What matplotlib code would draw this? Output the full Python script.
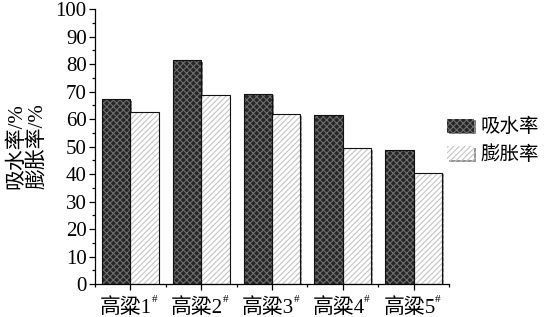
import matplotlib
matplotlib.use("Agg")
import matplotlib.pyplot as plt
import matplotlib.patheffects as pe
from matplotlib.ticker import MultipleLocator, FixedLocator
import numpy as np

# values
samples = ["高粱1", "高粱2", "高粱3", "高粱4", "高粱5"]
absorb = [67.3, 81.3, 69.2, 61.6, 48.6]     # 吸水率 /%
swell = [62.6, 68.8, 61.8, 49.3, 40.5]      # 膨胀率 /%
series_names = ["吸水率", "膨胀率"]
y_label = "吸水率/%\n膨胀率/%"

plt.rcParams['font.family'] = ['Liberation Serif', 'Noto Sans CJK SC', 'DejaVu Sans']
plt.rcParams['hatch.linewidth'] = 0.8

fig = plt.figure(figsize=(5.47, 3.17), dpi=100)
ax = fig.add_axes([0.1737, 0.104, 0.6471, 0.8676])

x = np.arange(len(samples))
w = 0.4
shadow = [pe.SimplePatchShadow(offset=(1.2, -1.2), shadow_rgbFace='#888888', alpha=0.9), pe.Normal()]

# fill with coloured hatch first, outline on top
b1 = ax.bar(x - w / 2, absorb, w, facecolor='#262626', edgecolor='#6e6e6e', hatch='xxxxx',
            linewidth=0, path_effects=shadow, zorder=2)
ax.bar(x - w / 2, absorb, w, facecolor='none', edgecolor='#111111', linewidth=0.8, zorder=3)
b2 = ax.bar(x + w / 2, swell, w, facecolor='white', edgecolor='#c4c4c4', hatch='//////',
            linewidth=0, path_effects=shadow, zorder=2)
ax.bar(x + w / 2, swell, w, facecolor='none', edgecolor='#111111', linewidth=0.8, zorder=3)

ax.set_xlim(-0.5, len(samples) - 0.5)
ax.set_ylim(0, 100)
ax.yaxis.set_major_locator(MultipleLocator(10))
ax.yaxis.set_minor_locator(MultipleLocator(5))
ax.xaxis.set_major_locator(FixedLocator(x))
ax.xaxis.set_minor_locator(FixedLocator(np.arange(len(samples) + 1) - 0.5))
ax.set_xticklabels(samples)
ax.tick_params(axis='both', which='major', direction='out', length=4, width=0.9, labelsize=15, pad=2)
ax.tick_params(axis='both', which='minor', direction='out', length=2.5, width=0.9)
ax.tick_params(axis='x', which='major', pad=6)

# shift sample labels a little left to leave room for the "#"
for lab in ax.get_xticklabels():
    lab.set_transform(lab.get_transform() + matplotlib.transforms.ScaledTranslation(-3 / 72, 0, fig.dpi_scale_trans))

for s in ['top', 'right']:
    ax.spines[s].set_visible(False)
for s in ['left', 'bottom']:
    ax.spines[s].set_linewidth(0.9)

# superscript "#" after each sample label
for i in x:
    ax.annotate("#", xy=(i, 0), xycoords=('data', 'axes fraction'), xytext=(17.5, -11),
                textcoords='offset points', fontsize=8, ha='center', va='center')

ax.set_ylabel(y_label, fontsize=15, labelpad=6, linespacing=1.05)

ax.legend([b1, b2], series_names, loc='center left', bbox_to_anchor=(0.995, 0.52), frameon=False,
          fontsize=14, handlelength=1.4, handleheight=0.75, handletextpad=0.3, labelspacing=0.45,
          borderaxespad=0.0, borderpad=0.0)

fig.savefig("out.png", dpi=100)
